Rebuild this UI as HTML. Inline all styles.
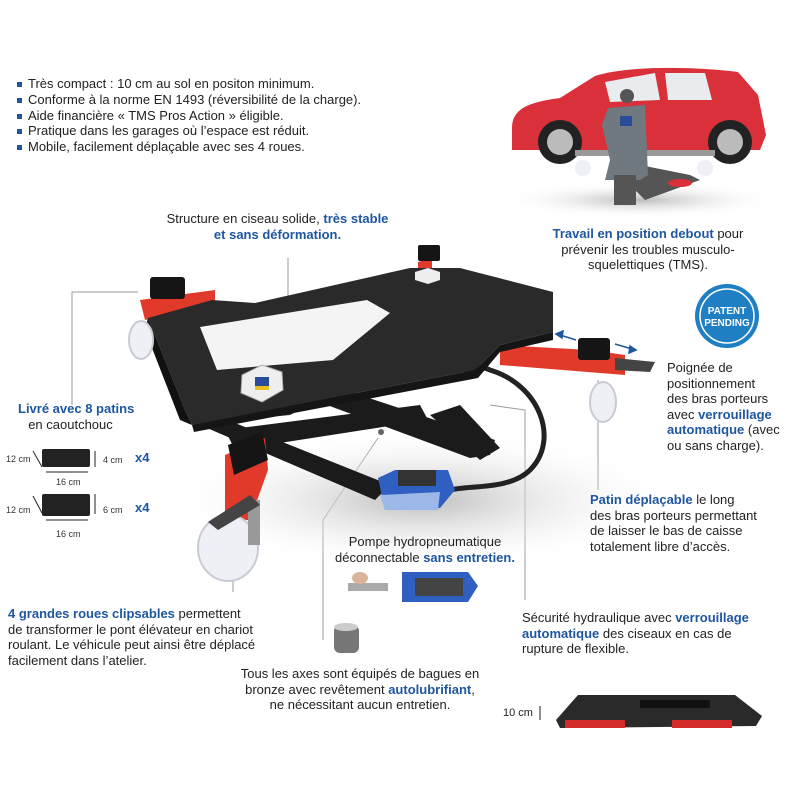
<!DOCTYPE html>
<html><head><meta charset="utf-8"><style>
html,body{margin:0;padding:0;background:#fff}
#c{position:relative;width:800px;height:800px;overflow:hidden;font-family:"Liberation Sans",Arial,sans-serif;font-size:13px;color:#222;line-height:15.5px}
.t{position:absolute;white-space:nowrap}
b{color:#1e56a0}
.bl{position:absolute;width:5px;height:5px;background:#1e56a0}
.sm{font-size:9px;color:#333}
</style></head><body><div id="c">
<svg width="800" height="800" style="position:absolute;left:0;top:0">
 <defs>
  <radialGradient id="sh" cx="50%" cy="50%" r="50%"><stop offset="0" stop-color="#bbb"/><stop offset="1" stop-color="#fff" stop-opacity="0"/></radialGradient>
 </defs>
 <g stroke="#999" stroke-width="1" fill="none">
  <polyline points="288,258 288,348"/>
  <polyline points="72,405 72,292 138,292"/>
  <polyline points="233,592 233,540"/>
  <polyline points="323,640 323,520 378,438"/>
  <polyline points="525,600 525,410 490,405"/>
  <polyline points="598,490 598,380"/>
 </g>
 <ellipse cx="420" cy="500" rx="260" ry="70" fill="url(#sh)"/>
 <ellipse cx="640" cy="200" rx="140" ry="18" fill="url(#sh)"/>
 <g fill="#1b1b1b">
  <polygon points="200,425 215,415 390,485 375,500"/>
  <polygon points="300,395 330,385 495,440 490,455 470,458"/>
  <polygon points="225,430 420,405 428,420 235,450"/>
  <polygon points="430,415 460,405 500,448 480,460"/>
 </g>
 <circle cx="381" cy="432" r="3" fill="#666"/>
 <path d="M478,372 C455,385 470,360 490,370 C540,385 560,440 530,470 C510,490 470,485 450,490" stroke="#222" stroke-width="5" fill="none"/>
 <g fill="#e23a2a">
  <polygon points="140,300 215,290 215,305 145,320"/>
  <polygon points="500,345 590,350 625,355 625,375 500,365"/>
  <polygon points="225,455 265,438 268,470 250,520 225,520"/>
  <polygon points="418,262 432,258 432,275 418,278"/>
 </g>
 <polygon points="148,318 212,300 255,303 410,268 460,268 553,292 553,332 500,345 475,370 320,400 290,415 192,425 185,410" fill="#2a2a2a"/>
 <polygon points="200,327 367,300 390,313 333,360 217,370" fill="#f4f4f4"/>
 <polygon points="148,318 185,410 192,425 180,420 145,330" fill="#111"/>
 <polygon points="192,425 320,400 475,370 500,345 553,332 553,340 500,352 478,378 320,408 194,432" fill="#151515"/>
 <polygon points="242,375 262,365 282,372 283,390 262,402 241,393" fill="#eee" stroke="#aaa"/>
 <rect x="255" y="377" width="14" height="12" fill="#2a4a9a"/><rect x="255" y="386" width="14" height="4" fill="#e8c020"/>
 <polygon points="415,272 428,268 440,272 440,280 428,284 415,280" fill="#eee"/>
 <g fill="#151515">
  <rect x="150" y="277" width="35" height="22" rx="3"/>
  <rect x="418" y="245" width="22" height="16" rx="2"/>
  <rect x="578" y="338" width="32" height="22" rx="3"/>
  <polygon points="228,445 262,432 268,460 234,475"/>
 </g>
 <g fill="#eef0f5" stroke="#c8cbd3" stroke-width="2">
  <ellipse cx="141" cy="340" rx="12" ry="19"/>
  <ellipse cx="228" cy="548" rx="30" ry="33"/>
  <ellipse cx="603" cy="402" rx="13" ry="20"/>
 </g>
 <rect x="248" y="500" width="12" height="45" fill="#999"/>
 <polygon points="208,522 250,495 260,505 218,530" fill="#444"/>
 <polygon points="615,358 655,362 650,372 615,370" fill="#444"/>
 <g stroke="#1e56a0" stroke-width="1.5" fill="#1e56a0">
  <line x1="560" y1="335" x2="576" y2="340"/><polygon points="556,334 563,331 562,338"/>
  <line x1="615" y1="344" x2="632" y2="349"/><polygon points="636,350 629,353 630,346"/>
 </g>
 <polygon points="378,478 395,470 448,470 455,490 440,508 385,510" fill="#2f5fc0"/>
 <polygon points="380,495 440,492 438,510 385,510" fill="#9cb8e8"/>
 <rect x="398" y="470" width="38" height="16" fill="#333"/>
 <rect x="348" y="583" width="40" height="8" fill="#aaa"/>
 <ellipse cx="360" cy="578" rx="8" ry="6" fill="#d9b49a"/>
 <polygon points="402,572 468,572 478,586 468,602 402,602" fill="#2f5fc0"/>
 <rect x="415" y="578" width="48" height="18" fill="#444"/>
 <rect x="334" y="625" width="25" height="28" rx="6" fill="#777"/>
 <ellipse cx="346" cy="627" rx="12" ry="4" fill="#ccc"/>
 <path d="M512,128 C512,108 530,102 560,98 L595,76 C625,66 690,66 738,72 L758,95 L766,135 L760,150 L512,150 Z" fill="#d9303a"/>
 <polygon points="605,82 655,73 660,100 610,102" fill="#e8ecef"/>
 <polygon points="665,73 705,73 712,100 668,100" fill="#e8ecef"/>
 <circle cx="560" cy="142" r="22" fill="#222"/><circle cx="560" cy="142" r="13" fill="#bbb"/>
 <circle cx="730" cy="142" r="22" fill="#222"/><circle cx="730" cy="142" r="13" fill="#bbb"/>
 <rect x="575" y="150" width="140" height="6" fill="#999"/>
 <polygon points="620,175 640,165 690,175 700,180 645,200" fill="#555"/>
 <circle cx="583" cy="168" r="8" fill="#eef0f5"/><circle cx="705" cy="168" r="8" fill="#eef0f5"/>
 <ellipse cx="680" cy="183" rx="12" ry="4" fill="#d9303a"/>
 <circle cx="627" cy="96" r="7" fill="#555"/>
 <polygon points="608,108 645,105 648,175 640,180 605,180 610,160 602,125" fill="#707880"/>
 <rect x="620" y="116" width="12" height="10" fill="#2a4a9a"/>
 <rect x="614" y="175" width="22" height="30" fill="#555"/>
 <circle cx="727" cy="316" r="32" fill="#1f7fc2"/>
 <circle cx="727" cy="316" r="27" fill="none" stroke="#fff" stroke-width="1.5"/>
 <text x="727" y="314" fill="#fff" font-family="Liberation Sans" font-weight="bold" font-size="10" text-anchor="middle">PATENT</text>
 <text x="727" y="326" fill="#fff" font-family="Liberation Sans" font-weight="bold" font-size="10" text-anchor="middle">PENDING</text>
 <rect x="42" y="449" width="48" height="18" rx="2" fill="#222"/>
 <rect x="42" y="494" width="48" height="22" rx="2" fill="#222"/>
 <g stroke="#222" stroke-width="1">
  <line x1="33" y1="451" x2="42" y2="467"/><line x1="33" y1="496" x2="42" y2="513"/>
  <line x1="46" y1="472" x2="88" y2="472"/><line x1="46" y1="520" x2="88" y2="520"/>
  <line x1="95" y1="451" x2="95" y2="467"/><line x1="95" y1="494" x2="95" y2="514"/>
  <line x1="540" y1="706" x2="540" y2="720"/>
 </g>
 <polygon points="556,720 578,695 735,695 762,716 756,726 560,728" fill="#2a2a2a"/>
 <rect x="640" y="700" width="70" height="8" fill="#111"/>
 <rect x="565" y="720" width="60" height="8" fill="#d32a2a"/><rect x="672" y="720" width="60" height="8" fill="#d32a2a"/>
</svg>

<div class="bl" style="left:17px;top:82px"></div><div class="t" style="left:28px;top:76px">Très compact : 10 cm au sol en positon minimum.</div>
<div class="bl" style="left:17px;top:98px"></div><div class="t" style="left:28px;top:92px">Conforme à la norme EN 1493 (réversibilité de la charge).</div>
<div class="bl" style="left:17px;top:114px"></div><div class="t" style="left:28px;top:108px">Aide financière « TMS Pros Action » éligible.</div>
<div class="bl" style="left:17px;top:129px"></div><div class="t" style="left:28px;top:123px">Pratique dans les garages où l’espace est réduit.</div>
<div class="bl" style="left:17px;top:145px"></div><div class="t" style="left:28px;top:139px">Mobile, facilement déplaçable avec ses 4 roues.</div>

<div class="t" style="top:211px;text-align:center;left:165px;width:225px">Structure en ciseau solide, <b>très stable</b><br><b>et sans déformation.</b></div>

<div class="t" style="left:528px;top:226px;width:240px;text-align:center"><b>Travail en position debout</b> pour<br>prévenir les troubles musculo-<br>squelettiques (TMS).</div>

<div class="t" style="left:667px;top:360px">Poignée de<br>positionnement<br>des bras porteurs<br>avec <b>verrouillage</b><br><b>automatique</b> (avec<br>ou sans charge).</div>

<div class="t" style="left:18px;top:401px;text-align:center;width:105px"><b>Livré avec 8 patins</b><br>en caoutchouc</div>
<div class="t sm" style="left:6px;top:452px">12 cm</div><div class="t sm" style="left:103px;top:453px">4 cm</div><div class="t" style="left:135px;top:450px"><b>x4</b></div>
<div class="t sm" style="left:56px;top:475px">16 cm</div>
<div class="t sm" style="left:6px;top:503px">12 cm</div><div class="t sm" style="left:103px;top:503px">6 cm</div><div class="t" style="left:135px;top:500px"><b>x4</b></div>
<div class="t sm" style="left:56px;top:527px">16 cm</div>

<div class="t" style="left:590px;top:492px"><b>Patin déplaçable</b> le long<br>des bras porteurs permettant<br>de laisser le bas de caisse<br>totalement libre d’accès.</div>

<div class="t" style="left:325px;top:534px;width:200px;text-align:center">Pompe hydropneumatique<br>déconnectable <b>sans entretien.</b></div>

<div class="t" style="left:522px;top:610px">Sécurité hydraulique avec <b>verrouillage</b><br><b>automatique</b> des ciseaux en cas de<br>rupture de flexible.</div>

<div class="t" style="left:8px;top:606px"><b>4 grandes roues clipsables</b> permettent<br>de transformer le pont élévateur en chariot<br>roulant. Le véhicule peut ainsi être déplacé<br>facilement dans l’atelier.</div>

<div class="t" style="left:240px;top:666px;width:240px;text-align:center">Tous les axes sont équipés de bagues en<br>bronze avec revêtement <b>autolubrifiant</b>,<br>ne nécessitant aucun entretien.</div>

<div class="t" style="left:503px;top:706px;font-size:11px">10 cm</div>
</div></body></html>
